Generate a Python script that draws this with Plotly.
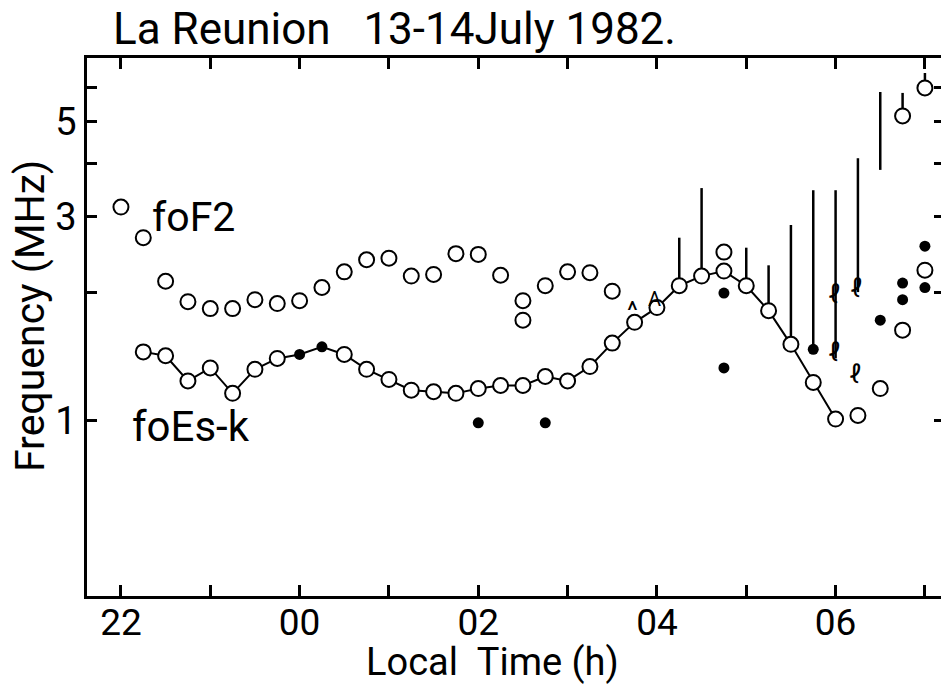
import math
import plotly.graph_objects as go

# ---------------- data (time in hours; 24 = 00 LT next day) ----------------
fof2_t = [22.0, 22.25, 22.5, 22.75, 23.0, 23.25, 23.5, 23.75, 24.0, 24.25, 24.5, 24.75,
          25.0, 25.25, 25.5, 25.75, 26.0, 26.25, 26.5, 26.5, 26.75, 27.0, 27.25, 27.5,
          28.75, 30.25, 30.5, 30.75, 31.0, 30.75, 31.0]
fof2_f = [3.16, 2.68, 2.12, 1.90, 1.83, 1.83, 1.92, 1.88, 1.91, 2.05, 2.23, 2.38,
          2.40, 2.18, 2.20, 2.46, 2.45, 2.19, 1.91, 1.72, 2.07, 2.23, 2.22, 2.01,
          2.48, 1.03, 1.19, 1.63, 2.25, 5.16, 6.0]

foes_t = [22.25, 22.5, 22.75, 23.0, 23.25, 23.5, 23.75, 24.0, 24.25, 24.5, 24.75,
          25.0, 25.25, 25.5, 25.75, 26.0, 26.25, 26.5, 26.75, 27.0, 27.25, 27.5,
          27.75, 28.0, 28.25, 28.5, 28.75, 29.0, 29.25, 29.5, 29.75, 30.0]
foes_f = [1.45, 1.42, 1.24, 1.33, 1.16, 1.32, 1.40, 1.43, 1.49, 1.43, 1.32,
          1.25, 1.18, 1.17, 1.16, 1.19, 1.21, 1.21, 1.27, 1.24, 1.34, 1.52,
          1.70, 1.84, 2.07, 2.18, 2.24, 2.07, 1.81, 1.51, 1.23, 1.01]
foes_open = [True, True, True, True, True, True, True, False, False, True, True,
             True, True, True, True, True, True, True, True, True, True, True,
             True, True, True, True, True, True, True, True, True, True]

dots_t = [26.0, 26.75, 28.75, 28.75, 29.75, 30.5, 30.75, 30.75, 31.0, 31.0]
dots_f = [0.99, 0.99, 1.99, 1.33, 1.47, 1.72, 2.10, 1.92, 2.56, 2.05]

bar_t = [28.25, 28.5, 29.0, 29.25, 29.5, 29.75, 30.0, 30.25, 30.5, 30.75, 31.0]
bar_lo = [2.07, 2.18, 2.07, 1.81, 1.51, 1.47, 1.40, 2.0, 3.86, 5.16, 6.0]
bar_hi = [2.68, 3.50, 2.54, 2.31, 2.87, 3.46, 3.46, 4.11, 5.87, 5.84, 6.5]

tick_vals = [22, 23, 24, 25, 26, 27, 28, 29, 30, 31]
tick_text = ["22", "", "00", "", "02", "", "04", "", "06", ""]
ytick_vals = [1, 2, 3, 4, 5, 6]
ytick_text = ["1", "", "3", "", "5", ""]

FONT = "Roboto"
YR = [-0.409, 0.848]
fig = go.Figure()

# vertical spread bars
bx, by = [], []
for t, lo, hi in zip(bar_t, bar_lo, bar_hi):
    bx += [t, t, None]
    by += [lo, hi, None]
fig.add_trace(go.Scatter(x=bx, y=by, mode="lines", line=dict(color="black", width=2.5),
                         hoverinfo="skip", showlegend=False))

# foEs-k connected line
fig.add_trace(go.Scatter(x=foes_t, y=foes_f, mode="lines", line=dict(color="black", width=2),
                         showlegend=False))
fig.add_trace(go.Scatter(
    x=[t for t, o in zip(foes_t, foes_open) if o],
    y=[f for f, o in zip(foes_f, foes_open) if o],
    mode="markers", marker=dict(symbol="circle", size=15, color="white",
                                line=dict(color="black", width=2)), showlegend=False))
fig.add_trace(go.Scatter(
    x=[t for t, o in zip(foes_t, foes_open) if not o],
    y=[f for f, o in zip(foes_f, foes_open) if not o],
    mode="markers", marker=dict(symbol="circle", size=11, color="black"), showlegend=False))

# foF2 open circles
fig.add_trace(go.Scatter(x=fof2_t, y=fof2_f, mode="markers",
                         marker=dict(symbol="circle", size=15, color="white",
                                     line=dict(color="black", width=2)), showlegend=False))
# filled dots
fig.add_trace(go.Scatter(x=dots_t, y=dots_f, mode="markers",
                         marker=dict(symbol="circle", size=11, color="black"), showlegend=False))

# invisible trace for right-hand tick axis
fig.add_trace(go.Scatter(x=[22], y=[1], yaxis="y2", mode="markers",
                         marker=dict(opacity=0), hoverinfo="skip", showlegend=False))

anns = [
    dict(x=22.33, y=3.0, text="foF2", xanchor="left", yanchor="middle", font=dict(size=41)),
    dict(x=22.1, y=0.97, text="foEs-k", xanchor="left", yanchor="middle", font=dict(size=42)),
    dict(x=27.73, y=1.82, text="^", font=dict(size=26)),
    dict(x=27.97, y=1.93, text="A", font=dict(size=20)),
    dict(x=29.98, y=1.98, text="ℓ", font=dict(size=26)),
    dict(x=30.23, y=2.05, text="ℓ", font=dict(size=26)),
    dict(x=29.98, y=1.45, text="ℓ", font=dict(size=26)),
    dict(x=30.22, y=1.29, text="ℓ", font=dict(size=26)),
]
for a in anns:
    a.update(xref="x", yref="y", showarrow=False)
    a["font"].update(family=FONT, color="black")
    a["y"] = math.log10(a["y"])
    fig.add_annotation(**a)

# title and axis titles
fig.add_annotation(xref="paper", yref="paper", x=0.028, y=1.106, xanchor="left", yanchor="top",
                   text="La Reunion\u00a0\u00a0\u00a013-14July 1982.", showarrow=False,
                   font=dict(family=FONT, size=44, color="black"))
fig.add_annotation(xref="paper", yref="paper", x=0.475, y=-0.168, xanchor="center", yanchor="bottom",
                   text="Local\u00a0\u00a0Time (h)", showarrow=False,
                   font=dict(family=FONT, size=38, color="black"))
fig.add_annotation(xref="paper", yref="paper", x=-0.067, y=0.52, xanchor="center", yanchor="middle",
                   text="Frequency (MHz)", textangle=-90, showarrow=False,
                   font=dict(family=FONT, size=41, color="black"))

fig.update_layout(
    width=941, height=687,
    margin=dict(l=87, r=0, t=58, b=91),
    paper_bgcolor="white", plot_bgcolor="white",
    font=dict(family=FONT, size=38, color="black"),
    xaxis=dict(range=[21.62, 31.18], tickvals=tick_vals, ticktext=tick_text,
               ticks="inside", ticklen=11, tickwidth=2.5, tickcolor="black",
               ticklabelstandoff=-8, tickfont=dict(size=37),
               showline=True, linewidth=2.5, linecolor="black", mirror="ticks",
               showgrid=False, zeroline=False),
    yaxis=dict(type="log", range=YR, tickvals=ytick_vals, ticktext=ytick_text,
               ticks="inside", ticklen=10, tickwidth=2.5, tickcolor="black",
               showline=True, linewidth=2.5, linecolor="black",
               showgrid=False, zeroline=False),
    yaxis2=dict(type="log", range=YR, overlaying="y", side="right",
                tickvals=ytick_vals, ticks="inside", ticklen=7, tickwidth=2.5,
                tickcolor="black", showticklabels=False, showline=False,
                showgrid=False, zeroline=False),
)

fig.write_html("out.html")
